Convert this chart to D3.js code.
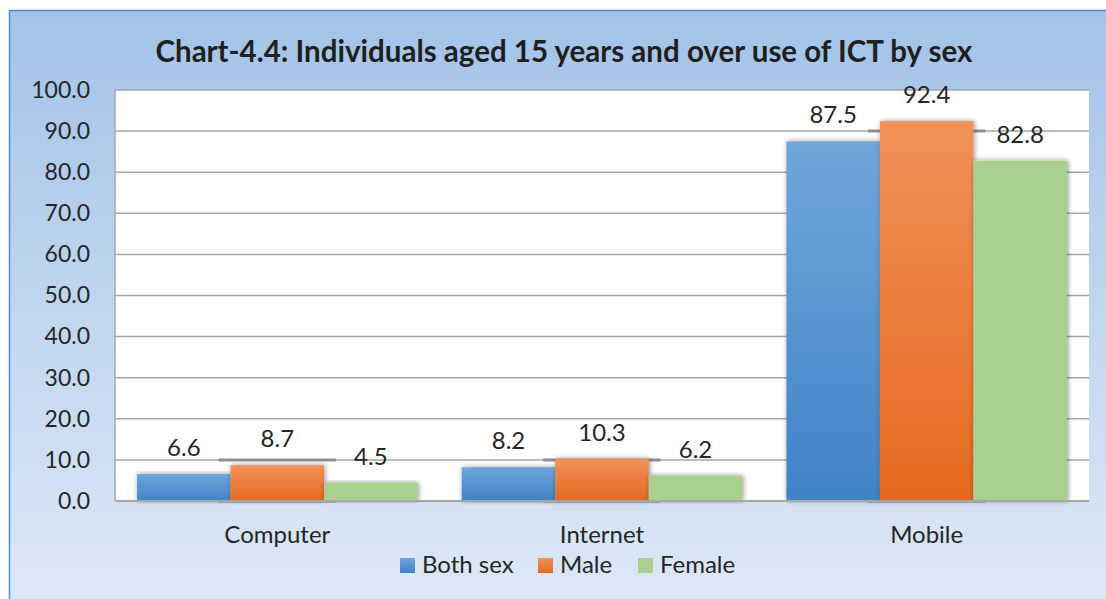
<!DOCTYPE html>
<html>
<head>
<meta charset="utf-8">
<script src="https://cdn.jsdelivr.net/npm/d3@7"></script>
<style>
  html, body { margin: 0; padding: 0; background: #ffffff; }
  svg { display: block; font-family: Lato, "Open Sans", sans-serif; }
</style>
</head>
<body>
<svg id="chart" width="1106" height="599"></svg>
<script>
// ICT use among individuals aged 15+ (percent)
const categories = ["Computer", "Internet", "Mobile"];
const seriesNames = ["Both sex", "Male", "Female"];
const bothSex = [6.6, 8.2, 87.5];
const male = [8.7, 10.3, 92.4];
const female = [4.5, 6.2, 82.8];
const yTicks = [0, 10, 20, 30, 40, 50, 60, 70, 80, 90, 100];
const title = "Chart-4.4: Individuals aged 15 years and over use of ICT by sex";

const seriesValues = [bothSex, male, female];

const svg = d3.select("#chart");
const W = 1106, H = 599;
const plot = { left: 115, right: 1089, top: 90, bottom: 501 };

const defs = svg.append("defs");

// frame background gradient
const bg = defs.append("linearGradient").attr("id", "bgGrad")
  .attr("x1", 0).attr("y1", 0).attr("x2", 0).attr("y2", 1);
bg.append("stop").attr("offset", "0%").attr("stop-color", "#a2c3e8");
bg.append("stop").attr("offset", "100%").attr("stop-color", "#dde8f6");

// bar fills
const fills = [
  { id: "gBoth", top: "#70a6da", bottom: "#3f83c7" },
  { id: "gMale", top: "#f1915a", bottom: "#e4691f" },
  { id: "gFemale", top: "#a9d08e", bottom: "#a9d08e" }
];
fills.forEach(f => {
  const g = defs.append("linearGradient").attr("id", f.id)
    .attr("x1", 0).attr("y1", 0).attr("x2", 0).attr("y2", 1);
  g.append("stop").attr("offset", "0%").attr("stop-color", f.top);
  g.append("stop").attr("offset", "100%").attr("stop-color", f.bottom);
});

const shadow = defs.append("filter").attr("id", "barShadow")
  .attr("x", "-20%").attr("y", "-10%").attr("width", "140%").attr("height", "120%");
shadow.append("feDropShadow").attr("dx", 1).attr("dy", 0)
  .attr("stdDeviation", 2.5).attr("flood-color", "#000").attr("flood-opacity", 0.45);

// outer frame
svg.append("rect").attr("x", 9).attr("y", 10).attr("width", W - 9).attr("height", H - 10)
  .attr("fill", "url(#bgGrad)");
svg.append("line").attr("x1", 9.5).attr("x2", 9.5).attr("y1", 10).attr("y2", H)
  .attr("stroke", "#4a8bd2").attr("stroke-width", 1.5);
svg.append("line").attr("x1", 9).attr("x2", W).attr("y1", 10.5).attr("y2", 10.5)
  .attr("stroke", "#4a8bd2").attr("stroke-width", 1.5);

// title
svg.append("text").attr("x", 564).attr("y", 62)
  .attr("text-anchor", "middle").attr("font-size", 29.5).attr("font-weight", 700)
  .attr("fill", "#1f1f1f").text(title);

// scales
const x0 = d3.scaleBand().domain(categories).range([plot.left, plot.right])
  .paddingInner(0).paddingOuter(0);
const x1 = d3.scaleBand().domain(seriesNames).range([0, x0.bandwidth()])
  .paddingInner(0).paddingOuter(0.236);
const y = d3.scaleLinear().domain([0, 100]).range([plot.bottom, plot.top]);

// plot area
svg.append("rect").attr("x", plot.left).attr("y", plot.top)
  .attr("width", plot.right - plot.left).attr("height", plot.bottom - plot.top)
  .attr("fill", "#ffffff");

// gridlines
svg.append("g").selectAll("line").data(yTicks.filter(t => t > 0)).join("line")
  .attr("x1", plot.left).attr("x2", plot.right)
  .attr("y1", d => y(d)).attr("y2", d => y(d))
  .attr("stroke", "#a6a6a6").attr("stroke-width", 1.5);

// y axis labels
const yAxis = d3.axisLeft(y).tickValues(yTicks).tickFormat(d3.format(".1f"))
  .tickSize(0).tickPadding(25);
const yG = svg.append("g").attr("transform", `translate(${plot.left},0)`).call(yAxis);
yG.select(".domain").remove();
yG.selectAll("text").attr("font-size", 23).attr("fill", "#262626")
  .attr("font-family", "Lato, 'Open Sans', sans-serif");

// left axis line
svg.append("line").attr("x1", plot.left).attr("x2", plot.left)
  .attr("y1", plot.top).attr("y2", plot.bottom)
  .attr("stroke", "#a6a6a6").attr("stroke-width", 1.5);

// darker segments on the gridline nearest the male bar top and on the baseline
const segG = svg.append("g");
categories.forEach((c, i) => {
  const xs = x0(c) + x1("Male") - 12;
  const xe = x0(c) + x1("Male") + x1.bandwidth() + 12;
  const near = Math.round(male[i] / 10) * 10;
  [near, 0].forEach(v => {
    segG.append("line").attr("x1", xs).attr("x2", xe)
      .attr("y1", y(v)).attr("y2", y(v))
      .attr("stroke", "#8f8f8f").attr("stroke-width", 3);
  });
});

// bars
const barData = [];
categories.forEach((c, i) => {
  seriesNames.forEach((s, j) => {
    barData.push({ cat: c, series: s, j, value: seriesValues[j][i] });
  });
});

svg.append("g").selectAll("rect").data(barData).join("rect")
  .attr("x", d => x0(d.cat) + x1(d.series))
  .attr("y", d => y(d.value))
  .attr("width", x1.bandwidth())
  .attr("height", d => y(0) - y(d.value))
  .attr("fill", d => `url(#${fills[d.j].id})`)
  .attr("filter", "url(#barShadow)");

// baseline
svg.append("line").attr("x1", plot.left).attr("x2", plot.right)
  .attr("y1", plot.bottom).attr("y2", plot.bottom)
  .attr("stroke", "#a6a6a6").attr("stroke-width", 2);

// value labels
svg.append("g").selectAll("text").data(barData).join("text")
  .attr("x", d => x0(d.cat) + x1(d.series) + x1.bandwidth() / 2)
  .attr("y", d => y(d.value) - 18)
  .attr("text-anchor", "middle").attr("font-size", 24).attr("fill", "#262626")
  .text(d => d.value.toFixed(1));

// category labels
const xAxis = d3.axisBottom(x0).tickSize(0);
const xG = svg.append("g").attr("transform", `translate(0,${plot.bottom})`).call(xAxis);
xG.select(".domain").remove();
xG.selectAll("text").attr("font-size", 24).attr("fill", "#262626")
  .attr("y", 42).attr("dy", 0)
  .attr("font-family", "Lato, 'Open Sans', sans-serif");

// legend
const legendX = [400, 538, 638];
const lg = svg.append("g");
seriesNames.forEach((s, j) => {
  lg.append("rect").attr("x", legendX[j]).attr("y", 558).attr("width", 15).attr("height", 15)
    .attr("fill", `url(#${fills[j].id})`);
  lg.append("text").attr("x", legendX[j] + 22).attr("y", 573)
    .attr("font-size", 24).attr("fill", "#262626").text(s);
});
</script>
</body>
</html>
